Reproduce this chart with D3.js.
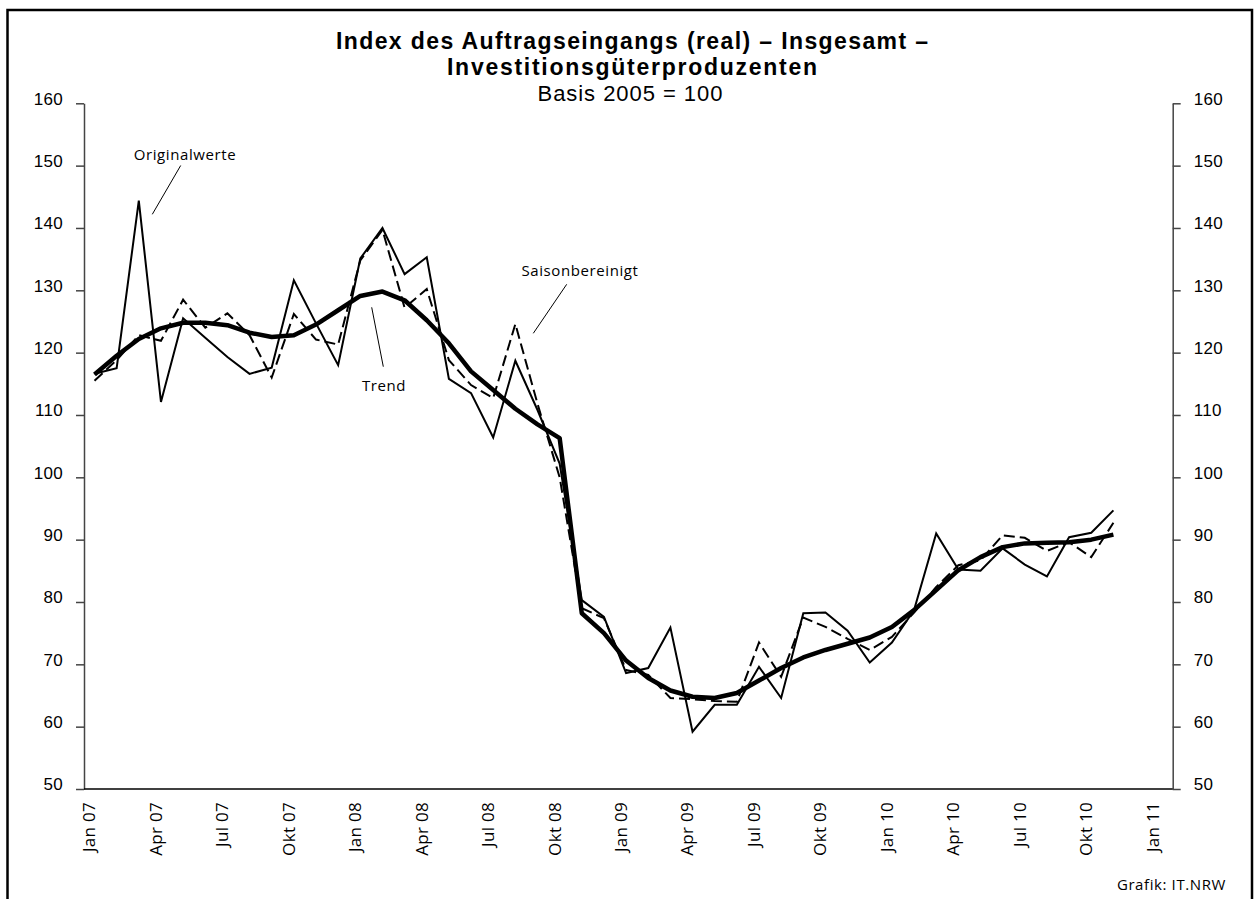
<!DOCTYPE html>
<html>
<head>
<meta charset="utf-8">
<script src="https://cdn.jsdelivr.net/npm/d3@7"></script>
<style>
  body { margin: 0; background: #fff; }
  svg { display: block; font-family: "Open Sans", "Noto Sans", sans-serif; }
  .title { font-family: "Liberation Sans", Arial, sans-serif; font-weight: bold; font-size: 23px; }
  .sub { font-family: "Liberation Sans", Arial, sans-serif; font-size: 22px; }
  .y-axis text { font-size: 17px; letter-spacing: 0.3px; }
  .x-label { font-size: 17px; letter-spacing: 0.3px; }
  .note { font-size: 15px; letter-spacing: 0.6px; }
</style>
</head>
<body>
<svg id="chart"></svg>
<script>
// monthly values Jan 07 .. Nov 10
const tickLabels = ["Jan 07", "Apr 07", "Jul 07", "Okt 07", "Jan 08", "Apr 08", "Jul 08", "Okt 08",
  "Jan 09", "Apr 09", "Jul 09", "Okt 09", "Jan 10", "Apr 10", "Jul 10", "Okt 10", "Jan 11"];
const yTicks = [50, 60, 70, 80, 90, 100, 110, 120, 130, 140, 150, 160];

const originalwerte = [116.6, 117.5, 144.4, 112.1, 125.5, 122.4, 119.3, 116.6, 117.6, 131.6, 124.7, 118.0,
  135.1, 140.0, 132.6, 135.3, 115.8, 113.5, 106.4, 118.7, 110.8, 102.2, 80.3, 77.6,
  68.6, 69.4, 75.9, 59.2, 63.5, 63.5, 69.6, 64.6, 78.2, 78.3, 75.4, 70.3,
  73.5, 78.7, 91.0, 85.2, 85.0, 88.6, 86.0, 84.1, 90.4, 91.1, 94.7];
const saisonbereinigt = [115.5, 118.8, 122.8, 121.9, 128.5, 124.0, 126.3, 122.8, 116.0, 126.2, 122.1, 121.3,
  134.8, 139.7, 127.2, 130.2, 118.8, 114.8, 112.7, 124.6, 111.8, 100.0, 79.0, 77.4,
  69.1, 68.3, 64.6, 64.4, 64.1, 64.0, 73.5, 68.0, 77.5, 76.0, 74.1, 72.3,
  74.4, 78.3, 82.4, 85.9, 86.7, 90.7, 90.3, 88.2, 89.6, 87.2, 92.7];
const trend = [116.5, 119.5, 122.2, 123.9, 124.8, 124.8, 124.4, 123.2, 122.5, 122.8, 124.5, 126.8,
  129.1, 129.8, 128.4, 125.2, 121.5, 117.0, 114.0, 111.0, 108.5, 106.3, 78.2, 75.0,
  70.6, 67.8, 65.8, 64.8, 64.6, 65.4, 67.4, 69.4, 71.1, 72.3, 73.3, 74.3,
  76.0, 78.7, 81.9, 85.1, 87.2, 88.8, 89.4, 89.5, 89.6, 90.0, 90.8];

const chartSize = { width: 1255, height: 899 };
const plot = { left: 84, right: 1172.7, top: 103.3, bottom: 789 };

const svg = d3.select("#chart")
  .attr("width", chartSize.width)
  .attr("height", chartSize.height);

// frame
svg.append("rect")
  .attr("x", 7.5).attr("y", 10)
  .attr("width", 1244.5).attr("height", 1000)
  .attr("fill", "none").attr("stroke", "#000").attr("stroke-width", 2.5);

const x = d3.scaleLinear().domain([0, 48]).range([94.5, 1157.7]);
const y = d3.scaleLinear().domain([50, 160]).range([plot.bottom, plot.top]);

// titles
const titles = [
  { text: "Index des Auftragseingangs (real) – Insgesamt –", cls: "title", x: 632, y: 49, len: 592 },
  { text: "Investitionsgüterproduzenten", cls: "title", x: 632, y: 75, len: 370 },
  { text: "Basis 2005 = 100", cls: "sub", x: 630, y: 101, len: 185 }
];
svg.append("g").selectAll("text").data(titles).join("text")
  .attr("class", d => d.cls)
  .attr("x", d => d.x - d.len / 2).attr("y", d => d.y)
  .attr("textLength", d => d.len).attr("lengthAdjust", "spacing")
  .text(d => d.text);

// y axes
const yAxisL = d3.axisLeft(y).tickValues(yTicks).tickSize(8).tickSizeOuter(0).tickPadding(13);
const yAxisR = d3.axisRight(y).tickValues(yTicks).tickSize(8).tickSizeOuter(0).tickPadding(13);

svg.append("g").attr("class", "y-axis")
  .attr("transform", `translate(${plot.left},0)`).call(yAxisL);
svg.append("g").attr("class", "y-axis")
  .attr("transform", `translate(${plot.right},0)`).call(yAxisR);
svg.selectAll(".y-axis path, .y-axis line").attr("stroke", "#444").attr("stroke-width", 1.5);
svg.selectAll(".y-axis text").attr("fill", "#000").attr("dy", "0.05em")
  .style("font-family", "inherit");

// x axis line
svg.append("line")
  .attr("x1", plot.left).attr("x2", plot.right)
  .attr("y1", plot.bottom).attr("y2", plot.bottom)
  .attr("stroke", "#000").attr("stroke-width", 1.5);

svg.append("g").selectAll("text")
  .data(tickLabels)
  .join("text")
  .attr("class", "x-label")
  .attr("text-anchor", "end")
  .attr("transform", (d, i) => `translate(${x(i * 3)},802) rotate(-90)`)
  .attr("dy", "0.05em")
  .text(d => d);

// series
const line = d3.line().x((d, i) => x(i)).y(d => y(d));

svg.append("path").datum(originalwerte)
  .attr("d", line).attr("fill", "none")
  .attr("stroke", "#000").attr("stroke-width", 2).attr("stroke-linejoin", "miter");

svg.append("path").datum(saisonbereinigt)
  .attr("d", line).attr("fill", "none")
  .attr("stroke", "#000").attr("stroke-width", 2).attr("stroke-dasharray", "11,5");

svg.append("path").datum(trend)
  .attr("d", line).attr("fill", "none")
  .attr("stroke", "#000").attr("stroke-width", 4.5).attr("stroke-linejoin", "round");

// annotations
const notes = [
  { text: "Originalwerte", tx: 185, ty: 160, x1: 180.7, y1: 165.5, x2: 152.3, y2: 214.3 },
  { text: "Trend", tx: 384, ty: 391, x1: 371.7, y1: 307.3, x2: 383.3, y2: 366.7 },
  { text: "Saisonbereinigt", tx: 580, ty: 276, x1: 566.7, y1: 284.3, x2: 533.3, y2: 333.3 }
];
svg.append("g").selectAll("line").data(notes).join("line")
  .attr("x1", d => d.x1).attr("y1", d => d.y1)
  .attr("x2", d => d.x2).attr("y2", d => d.y2)
  .attr("stroke", "#000").attr("stroke-width", 1);
svg.append("g").selectAll("text").data(notes).join("text")
  .attr("class", "note").attr("text-anchor", "middle")
  .attr("x", d => d.tx).attr("y", d => d.ty)
  .text(d => d.text);

svg.append("text").attr("class", "note").attr("text-anchor", "end")
  .attr("x", 1226).attr("y", 890).text("Grafik: IT.NRW");
</script>
</body>
</html>
